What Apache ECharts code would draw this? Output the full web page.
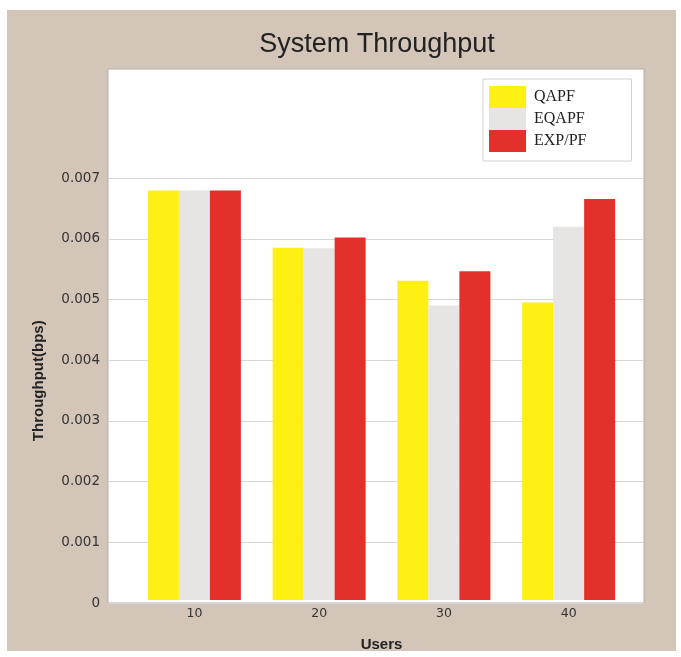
<!DOCTYPE html>
<html>
<head>
<meta charset="utf-8">
<title>System Throughput</title>
<script src="https://cdn.jsdelivr.net/npm/echarts@6/dist/echarts.min.js"></script>
<style>
  html, body { margin: 0; padding: 0; background: #ffffff; }
  #chart { width: 681px; height: 657px; }
</style>
</head>
<body>
<div id="chart"></div>
<script>
// Number of users per scenario
const users = ['10', '20', '30', '40'];

// Throughput (bps) per scheduler
const qapf  = [0.0068, 0.00585, 0.0053, 0.00494];
const eqapf = [0.0068, 0.00584, 0.00489, 0.0062];
const exppf = [0.0068, 0.00602, 0.00546, 0.00666];

const seriesNames = ['QAPF', 'EQAPF', 'EXP/PF'];
const seriesColors = ['#fff014', '#e6e5e3', '#e3302b'];

// y-axis ticks shown on the left
const yTickStep = 0.001;
const yTickTop = 0.007;

const chart = echarts.init(document.getElementById('chart'), null, { renderer: 'canvas' });

// one colour per grid line; the lines above the top tick stay invisible
const gridLineColors = [];
for (let v = 0; v <= yTickTop + 1e-9; v += yTickStep) gridLineColors.push('#d6d6d6');
gridLineColors.push('rgba(0,0,0,0)', 'rgba(0,0,0,0)');

const option = {
  animation: false,
  backgroundColor: 'transparent',
  graphic: [{
    type: 'rect',
    z: -10,
    shape: { x: 7, y: 10, width: 669, height: 641 },
    style: { fill: '#d3c5b8' },
    silent: true
  }],
  title: {
    text: 'System Throughput',
    left: 377,
    top: 31,
    textAlign: 'center',
    padding: 0,
    textStyle: {
      fontFamily: 'Liberation Sans, Arial, sans-serif',
      fontWeight: 'normal',
      fontSize: 27,
      color: '#222222'
    }
  },
  legend: {
    orient: 'vertical',
    left: 483,
    top: 79,
    padding: [7, 45, 9, 6],
    itemWidth: 37,
    itemHeight: 22,
    itemGap: 0,
    borderColor: '#d2d2d2',
    borderWidth: 1,
    backgroundColor: '#ffffff',
    icon: 'rect',
    data: seriesNames,
    textStyle: {
      fontFamily: 'Liberation Serif, Times New Roman, serif',
      fontSize: 16,
      color: '#222222',
      lineHeight: 22,
      padding: [0, 0, 0, 3]
    }
  },
  grid: [
    // white panel with the value axis and its grid lines
    { left: 108, right: 37, top: 69, bottom: 54, show: true,
      backgroundColor: '#ffffff', borderColor: '#b3aea9', borderWidth: 1 },
    // band area holding the bar groups
    { left: 132, right: 50, top: 178.5, bottom: 54 }
  ],
  xAxis: [
    { gridIndex: 0, type: 'value', show: false, min: 0, max: 1 },
    {
      gridIndex: 1,
      type: 'category',
      data: users,
      name: 'Users',
      nameLocation: 'middle',
      nameGap: 37,
      nameTextStyle: {
        fontFamily: 'Liberation Sans, Arial, sans-serif',
        fontWeight: 'bold',
        fontSize: 15,
        color: '#222222'
      },
      axisLine: { show: false },
      axisTick: { show: false },
      axisLabel: {
        margin: 7,
        fontFamily: 'DejaVu Sans, sans-serif',
        fontSize: 12.5,
        color: '#333333'
      }
    }
  ],
  yAxis: [
    {
      gridIndex: 0,
      type: 'value',
      min: 0,
      max: 0.0088,
      interval: yTickStep,
      axisLine: { show: false },
      axisTick: { show: false },
      splitLine: { show: true, lineStyle: { color: gridLineColors, width: 1 } },
      axisLabel: {
        margin: 8,
        fontFamily: 'DejaVu Sans, sans-serif',
        fontSize: 13.5,
        color: '#333333',
        formatter: function (v) {
          if (v > yTickTop + 1e-9) return '';
          return v === 0 ? '0' : v.toFixed(3);
        }
      }
    },
    {
      gridIndex: 1,
      type: 'value',
      min: 0,
      max: yTickTop,
      name: 'Throughput(bps)',
      nameLocation: 'middle',
      nameGap: 86,
      nameTextStyle: {
        fontFamily: 'Liberation Sans, Arial, sans-serif',
        fontWeight: 'bold',
        fontSize: 15,
        color: '#222222',
        padding: [0, 0, 0, 17]
      },
      axisLine: { show: false },
      axisTick: { show: false },
      axisLabel: { show: false },
      splitLine: { show: false }
    }
  ],
  series: [qapf, eqapf, exppf].map((values, i) => ({
    name: seriesNames[i],
    type: 'bar',
    xAxisIndex: 1,
    yAxisIndex: 1,
    barWidth: 31,
    barGap: '0%',
    itemStyle: { color: seriesColors[i] },
    data: values
  }))
};

chart.setOption(option);
</script>
</body>
</html>
